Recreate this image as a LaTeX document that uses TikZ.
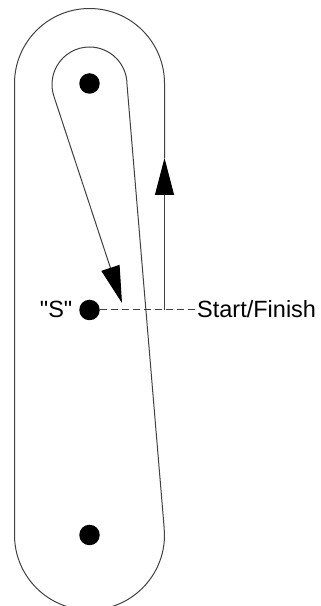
\documentclass[tikz,border=0pt]{standalone}
\usepackage{fontspec}
\setmainfont{Liberation Sans}
\newfontfamily\plainsans[Ligatures=ResetAll]{Liberation Sans}
\usetikzlibrary{arrows.meta}
\tikzset{
  track/.style={draw=black!75, line width=1pt},
  dot/.style={circle, fill=black, inner sep=0pt, minimum size=20.5pt},
  lbl/.style={inner sep=0pt, font=\plainsans\fontsize{23.5}{26}\selectfont},
  tip/.style={-{Triangle[length=37pt,width=19pt,color=black]}}
}
\begin{document}
\begin{tikzpicture}[x=1pt,y=1pt]
\useasboundingbox (0,0) rectangle (321,606);
\clip (0,0) rectangle (321,606);
% dots
\node[dot] (top) at (89.5,522.5) {};
\node[dot] (s) at (89.5,296) {};
\node[dot] (bot) at (89.5,71) {};
% named points
\coordinate (start) at (164.5,296);
\coordinate (upTip) at (164.5,448);
\coordinate (endTip) at (122,303);
% dashed start line and labels
\node[lbl, anchor=base west] (sf) at (197,288.5) {Start/Finish};
\node[lbl, anchor=base east] (sl) at (72.5,288.5) {"S"};
\draw[black!75, line width=1pt, dash pattern=on 6.8pt off 4.2pt] (s.east) -- (sf.west |- s);
% main loop
\draw[track, tip] (start) -- (upTip);
\draw[track] (upTip) -- (164.5,522.5) arc[start angle=0, end angle=180, radius=75]
  -- (14.5,71) arc[start angle=180, end angle=360, radius=75]
  -- (164,80) -- (127,521.5) arc[start angle=0, end angle=198.3, radius=37.5];
\draw[track, tip] (53.9,509.7) -- (endTip);
\end{tikzpicture}
\end{document}
